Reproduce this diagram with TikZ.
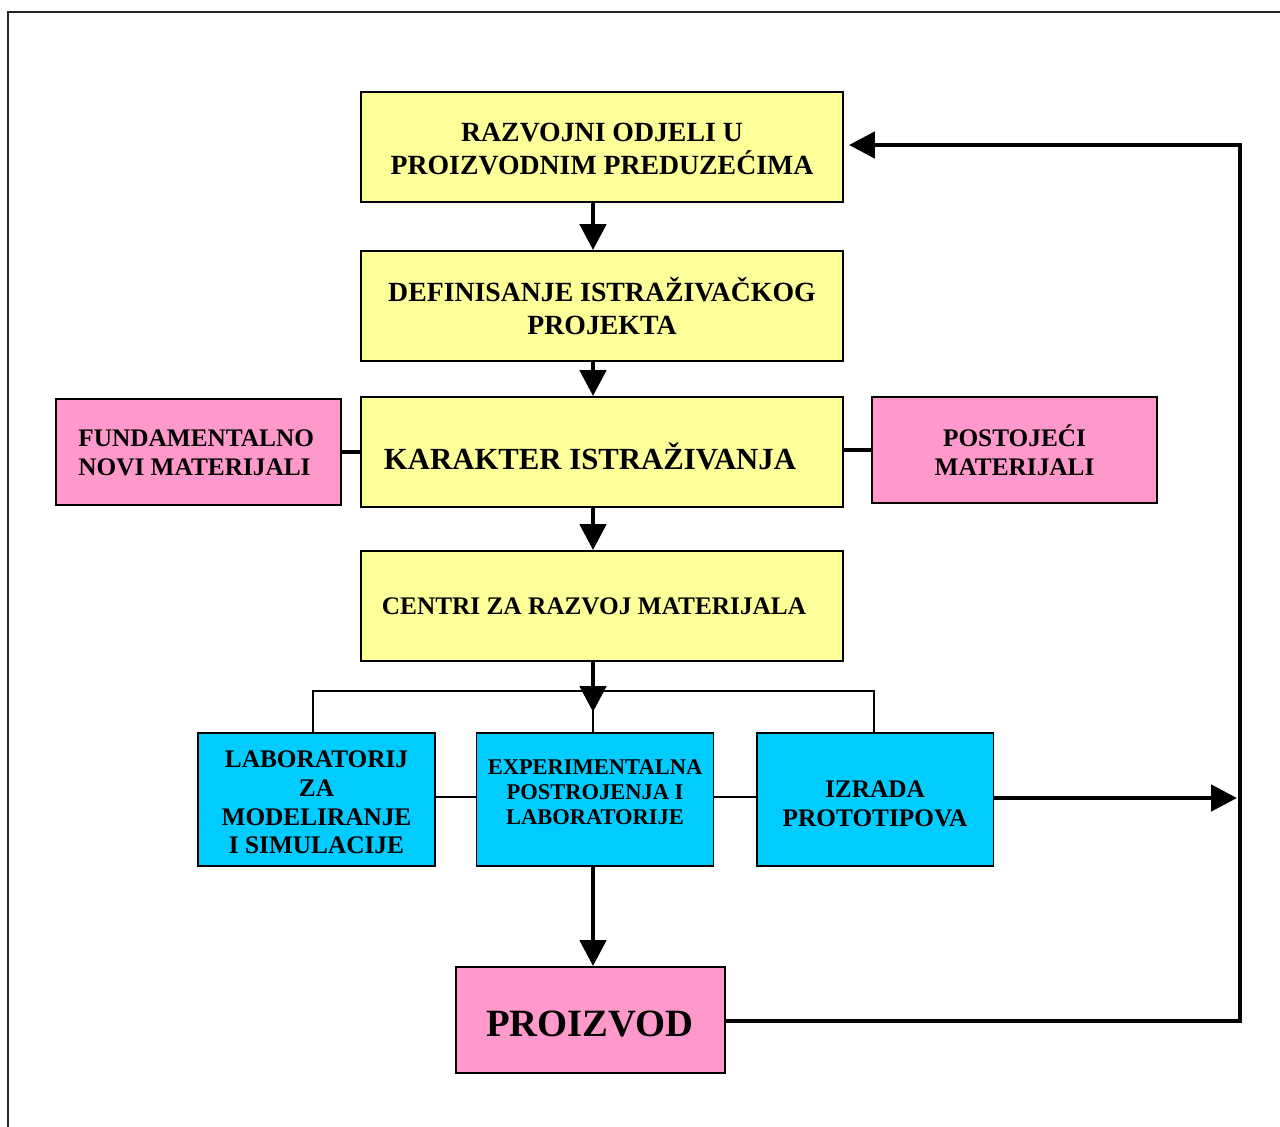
\documentclass[tikz,border=0pt]{standalone}
\usepackage{fontspec}
\setmainfont{Liberation Serif}
\usetikzlibrary{arrows.meta}
\definecolor{yel}{HTML}{FFFF99}
\definecolor{pnk}{HTML}{FF99CC}
\definecolor{cyn}{HTML}{00CCFF}
\begin{document}
\begin{tikzpicture}[x=0.02cm,y=-0.02cm,
  box/.style={draw=black, line width=1.1pt, inner sep=0pt, align=center},
  ybox/.style={box, fill=yel, minimum width=9.64cm, minimum height=2.2cm},
  pbox/.style={box, fill=pnk, minimum width=5.7cm, minimum height=2.12cm},
  cbox/.style={box, fill=cyn, minimum width=4.74cm, minimum height=2.66cm},
  bigf/.style={font=\bfseries\fontsize{15.8}{18.7}\selectfont},
  midf/.style={font=\bfseries\fontsize{14.4}{16.4}\selectfont},
  smallf/.style={font=\bfseries\fontsize{12.8}{14.2}\selectfont},
  thickarrow/.style={line width=2.8pt, -{Triangle[length=0.52cm,width=0.52cm]}},
  thickline/.style={line width=2.8pt},
  thinline/.style={line width=1.1pt}]
\useasboundingbox (0,0) rectangle (1280,1126);
% frame
\draw[line width=1.6pt, black!85] (8,1130) -- (8,12) -- (1284,12);

\node[ybox, bigf] (r1) at (602,147) {};
\node[bigf, align=center] (r1t) at (602,149) {RAZVOJNI ODJELI U\\PROIZVODNIM PREDUZEĆIMA};
\node[ybox, bigf] (r2) at (602,306) {DEFINISANJE ISTRAŽIVAČKOG\\PROJEKTA};
\node[ybox] (r3) at (602,452) {};
\node[font=\bfseries\fontsize{17.5}{20}\selectfont] (r3t) at (590,456) {KARAKTER ISTRAŽIVANJA};
\node[pbox] (fn) at (198.5,452) {};
\node[midf, align=left, anchor=west, inner sep=0pt] (fnt) at (78,453) {FUNDAMENTALNO\\NOVI MATERIJALI};
\node[pbox, midf] (po) at (1014.5,450) {POSTOJEĆI\\MATERIJALI};
\node[ybox] (c6) at (602,606) {};
\node[midf] (c6t) at (594,606) {CENTRI ZA RAZVOJ MATERIJALA};
\node[cbox] (lab) at (316.5,799.5) {};
\node[midf, align=center] (labt) at (316.5,802.5) {LABORATORIJ\\ZA\\MODELIRANJE\\I SIMULACIJE};
\node[cbox] (exp) at (595,799.5) {};
\node[smallf, align=center] (expt) at (595,792) {EXPERIMENTALNA\\POSTROJENJA I\\LABORATORIJE};
\node[cbox] (izr) at (875,799.5) {};
\node[midf, align=center] (izrt) at (875,803.5) {IZRADA\\PROTOTIPOVA};
\node[pbox, minimum width=5.38cm] (pr) at (590.5,1020) {};
\node[font=\bfseries\fontsize{22}{25}\selectfont] (prt) at (590,1024) {PROIZVOD};

\coordinate (br) at (593,691);
\coordinate (brtip) at (593,712);
\coordinate (rt) at (1237,798);
\coordinate (fbx) at (1240,1021);

\draw[thickarrow] (r1.south -| br) -- (r2.north -| br);
\draw[thickarrow] (r2.south -| br) -- (r3.north -| br);
\draw[thickarrow] (r3.south -| br) -- (c6.north -| br);
\draw[thickline] (fn.east) -- (r3.west |- fn.east);
\draw[thickline] (r3.east |- po.west) -- (po.west);
\draw[thinline] (lab.north -| 313,0) |- (br) -| (izr.north -| 874,0);
\draw[thinline] (br) -- (exp.north -| br);
\draw[thickarrow] (c6.south -| br) -- (brtip);
\draw[thinline] (lab.east |- 0,797) -- (exp.west |- 0,797);
\draw[thinline] (exp.east |- 0,797) -- (izr.west |- 0,797);
\draw[thickarrow] (exp.south -| br) -- (pr.north -| br);
\draw[thickarrow] (izr.east |- rt) -- (rt);
\draw[thickarrow, shorten >=0.1cm] (pr.east |- fbx) -- (fbx) |- (r1.east |- 0,145);
\end{tikzpicture}
\end{document}
